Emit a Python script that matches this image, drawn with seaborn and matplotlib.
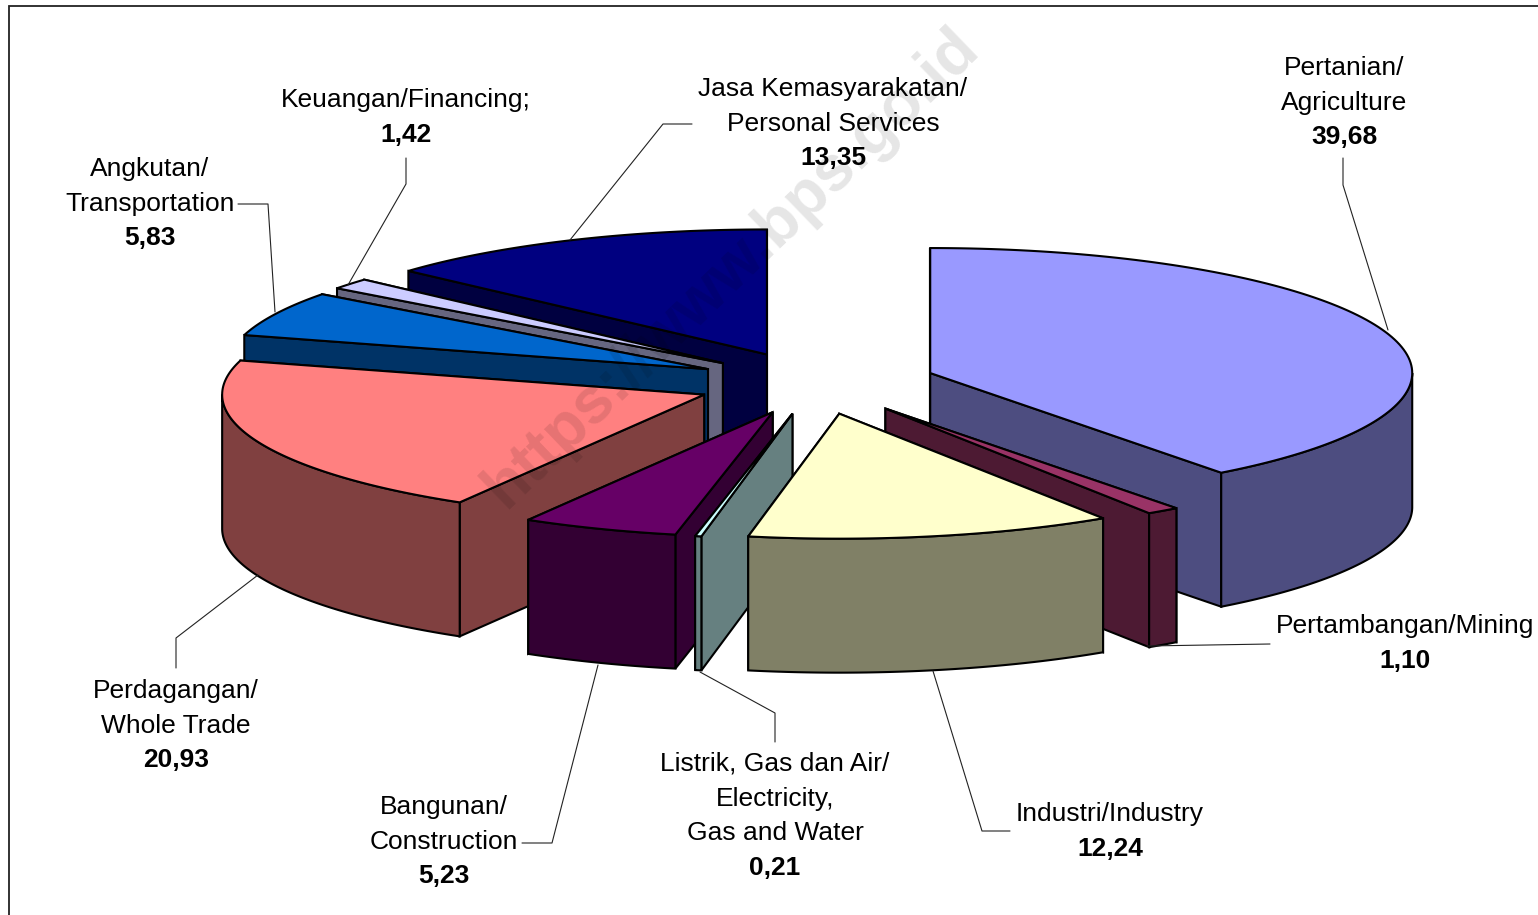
import numpy as np
import matplotlib
matplotlib.use("Agg")
import matplotlib.pyplot as plt
from matplotlib.patches import Polygon
import seaborn as sns

categories = ["Pertanian/\nAgriculture", "Pertambangan/Mining", "Industri/Industry",
              "Listrik, Gas dan Air/\nElectricity,\nGas and Water", "Bangunan/\nConstruction",
              "Perdagangan/\nWhole Trade", "Angkutan/\nTransportation",
              "Keuangan/Financing;", "Jasa Kemasyarakatan/\nPersonal Services"]
values = [39.68, 1.10, 12.24, 0.21, 5.23, 20.93, 5.83, 1.42, 13.35]
value_labels = ["39,68", "1,10", "12,24", "0,21", "5,23", "20,93", "5,83", "1,42", "13,35"]
top_colors = ["#9999FF", "#993366", "#FFFFCC", "#CCFFFF", "#660066",
              "#FF8080", "#0066CC", "#CCCCFF", "#000080"]

# Layout of the tilted pie, in pixels
CX, CY, RX, RY, DEPTH, EXPLODE = 816, 383, 482, 125, 134, 0.25
label_x = [1344, 1405, 1110, 775, 444, 176, 150, 406, 833]
label_top = [68, 626, 814, 764, 807, 691, 169, 100, 89]
leaders = [[(1343, 158), (1343, 185), (1388, 330)],
           [(1270, 644), (1147, 646)],
           [(1010, 831), (982, 831), (933, 671)],
           [(775, 742), (775, 713), (700, 672)],
           [(522, 843), (552, 843), (598, 665)],
           [(176, 668), (176, 638), (258, 575)],
           [(238, 204), (268, 204), (275, 312)],
           [(406, 158), (406, 184), (348, 285)],
           [(692, 124), (663, 124), (570, 240)]]

sns.set_theme(style="white")
plt.rcParams["font.family"] = ["Liberation Sans", "DejaVu Sans"]
palette = sns.color_palette(top_colors)

fig = plt.figure(figsize=(15.38, 9.15), dpi=100, facecolor="white")
ax = fig.add_axes([0, 0, 1, 1])
ax.set_xlim(0, 1538)
ax.set_ylim(915, 0)
ax.axis("off")

EDGE = dict(edgecolor="black", linewidth=1.5, joinstyle="miter")


def rim(theta, ox, oy):
    return np.column_stack([ox + RX * np.sin(theta), oy - RY * np.cos(theta)])


edges = np.radians(np.concatenate([[0], np.cumsum(values)]) / sum(values) * 360)
wedges = []
for i in range(len(values)):
    a0, a1 = edges[i], edges[i + 1]
    mid = (a0 + a1) / 2
    ox = CX + EXPLODE * RX * np.sin(mid)
    oy = CY - EXPLODE * RY * np.cos(mid)
    wedges.append((oy, i, a0, a1, ox))

for oy, i, a0, a1, ox in sorted(wedges):
    top = palette[i]
    wall = tuple(c * 0.5 for c in top)
    arc = rim(np.linspace(a0, a1, 120), ox, oy)
    drop = np.array([0, DEPTH])
    apex = np.array([ox, oy])
    # the radial wall whose rim end sits lower on the page faces the viewer: paint it last
    for p in sorted((arc[0], arc[-1]), key=lambda q: q[1]):
        ax.add_patch(Polygon([apex, p, p + drop, apex + drop], facecolor=wall, zorder=3, **EDGE))
    lo, hi = max(a0, np.pi / 2), min(a1, 3 * np.pi / 2)
    if hi > lo:
        front = rim(np.linspace(lo, hi, 120), ox, oy)
        ax.add_patch(Polygon(np.vstack([front, front[::-1] + drop]), facecolor=wall, zorder=3, **EDGE))
    ax.add_patch(Polygon(np.vstack([apex, arc]), facecolor=top, zorder=3, **EDGE))

for pts in leaders:
    xs, ys = zip(*pts)
    ax.plot(xs, ys, color="#222222", lw=0.8, zorder=4)

LINE = 34.7
FS = 19
for name, val, x, y in zip(categories, value_labels, label_x, label_top):
    lines = name.split("\n")
    for k, line in enumerate(lines):
        ax.text(x, y + k * LINE, line, ha="center", va="center", fontsize=FS, color="black", zorder=5)
    ax.text(x, y + len(lines) * LINE, val, ha="center", va="center", fontsize=FS,
            fontweight="bold", color="black", zorder=5)

ax.text(731, 268, "https://www.bps.go.id", rotation=44, rotation_mode="anchor",
        ha="center", va="center", fontsize=46, fontweight="bold",
        color="black", alpha=0.1, zorder=6)

ax.plot([8.5, 8.5, 1538], [915, 5.5, 5.5], color="#222222", lw=1.3, zorder=2,
        solid_joinstyle="miter")

fig.savefig("out.png", dpi=100)
